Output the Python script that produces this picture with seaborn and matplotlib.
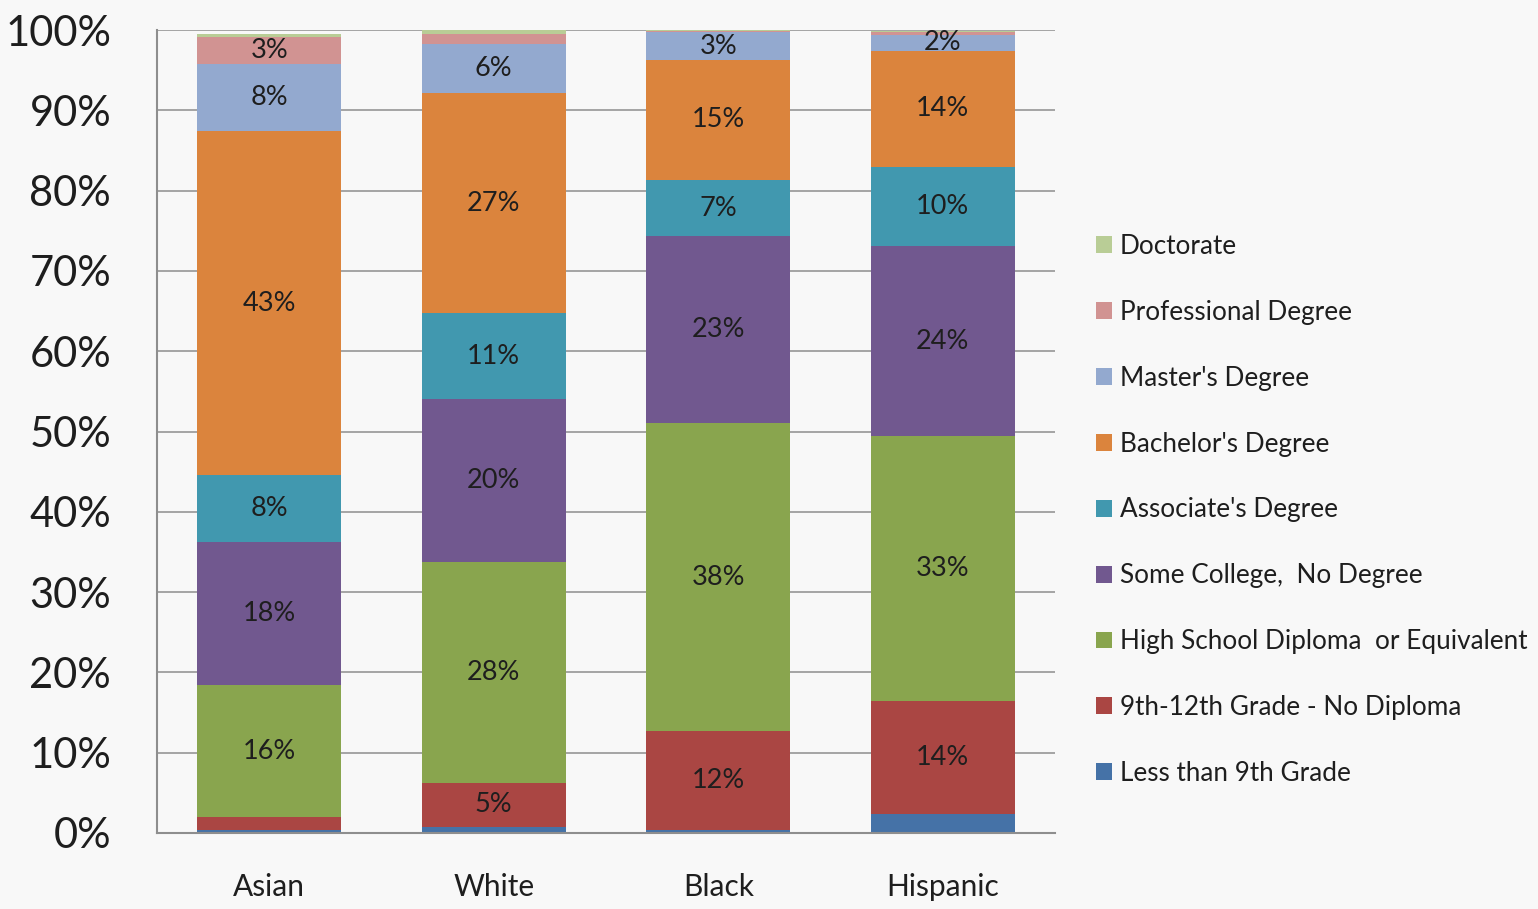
import numpy as np
import matplotlib
matplotlib.use("Agg")
import matplotlib.pyplot as plt
import seaborn as sns
from matplotlib.patches import Patch

# Educational attainment by race / ethnicity (percent of population)
groups = ["Asian", "White", "Black", "Hispanic"]

levels = [
    "Less than 9th Grade",
    "9th-12th Grade - No Diploma",
    "High School Diploma  or Equivalent",
    "Some College,  No Degree",
    "Associate's Degree",
    "Bachelor's Degree",
    "Master's Degree",
    "Professional Degree",
    "Doctorate",
]

less_than_9th = [0.4, 0.8, 0.4, 2.4]
grade_9_12 = [1.6, 5.4, 12.3, 14.0]
high_school = [16.4, 27.6, 38.3, 33.0]
some_college = [17.8, 20.2, 23.3, 23.7]
associate = [8.4, 10.8, 7.0, 9.9]
bachelor = [42.8, 27.3, 15.0, 14.4]
master = [8.4, 6.2, 3.4, 2.0]
professional = [3.3, 1.2, 0.15, 0.3]
doctorate = [0.4, 0.5, 0.15, 0.2]

colors = [
    "#4572A7", "#AA4643", "#89A54E", "#71588F", "#4198AF",
    "#DB843D", "#93A9CF", "#D19392", "#B9CD96",
]

# series that carry value labels (the bottom series is left unlabelled)
labelled = [False, True, True, True, True, True, True, True, True]

y_ticks = [0, 10, 20, 30, 40, 50, 60, 70, 80, 90, 100]
y_tick_labels = [f"{t}%" for t in y_ticks]

series = np.array([less_than_9th, grade_9_12, high_school, some_college,
                   associate, bachelor, master, professional, doctorate])
tops = np.cumsum(series, axis=0)
bottoms = tops - series

sns.set_theme(style="white")
plt.rcParams["font.family"] = ["Lato", "DejaVu Sans"]

bg = "#F8F8F8"
grid_c = "#8E8E8E"
text_c = "#1E1E1E"

fig = plt.figure(figsize=(15.38, 9.09), dpi=100, facecolor=bg)
ax = fig.add_axes([157 / 1538, 1 - 833 / 909, (1055 - 157) / 1538, (833 - 30) / 909])
ax.set_facecolor(bg)
ax.set_axisbelow(True)

# Stack by painting cumulative totals from the tallest layer down
for k in range(len(levels) - 1, -1, -1):
    sns.barplot(x=groups, y=tops[k], color=colors[k], width=0.64,
                saturation=1, errorbar=None, linewidth=0, ax=ax, zorder=2)

# Value labels for the larger segments
for k in range(len(levels)):
    if not labelled[k]:
        continue
    for i in range(len(groups)):
        v = series[k, i]
        if v >= 1.95:
            ax.text(i, bottoms[k, i] + v / 2, f"{v:.0f}%", ha="center", va="center",
                    fontsize=19.5, color=text_c, zorder=3)

ax.set_ylim(0, 100)
ax.set_xlim(-0.5, 3.5)
ax.set_yticks(y_ticks)
ax.set_yticklabels(y_tick_labels)
ax.yaxis.grid(True, color=grid_c, linewidth=1.1)
ax.xaxis.grid(False)
ax.tick_params(axis="y", length=0, pad=33, labelsize=30, labelcolor=text_c)
ax.tick_params(axis="x", length=0, pad=29, labelsize=21.5, labelcolor=text_c)
ax.set_xlabel("")
ax.set_ylabel("")
for side in ["top", "right"]:
    ax.spines[side].set_visible(False)
for side in ["left", "bottom"]:
    ax.spines[side].set_color(grid_c)
    ax.spines[side].set_linewidth(1.5)

handles = [Patch(facecolor=colors[k], edgecolor="none", label=levels[k])
           for k in range(len(levels) - 1, -1, -1)]
fig.legend(handles=handles, loc="upper left",
           bbox_to_anchor=(1096 / 1538, 1 - 234 / 909), frameon=False,
           fontsize=18.8, handlelength=0.62, handleheight=0.62,
           handletextpad=0.3, labelspacing=1.565, borderpad=0,
           borderaxespad=0, labelcolor=text_c)

fig.savefig("out.png", dpi=100, facecolor=bg)
